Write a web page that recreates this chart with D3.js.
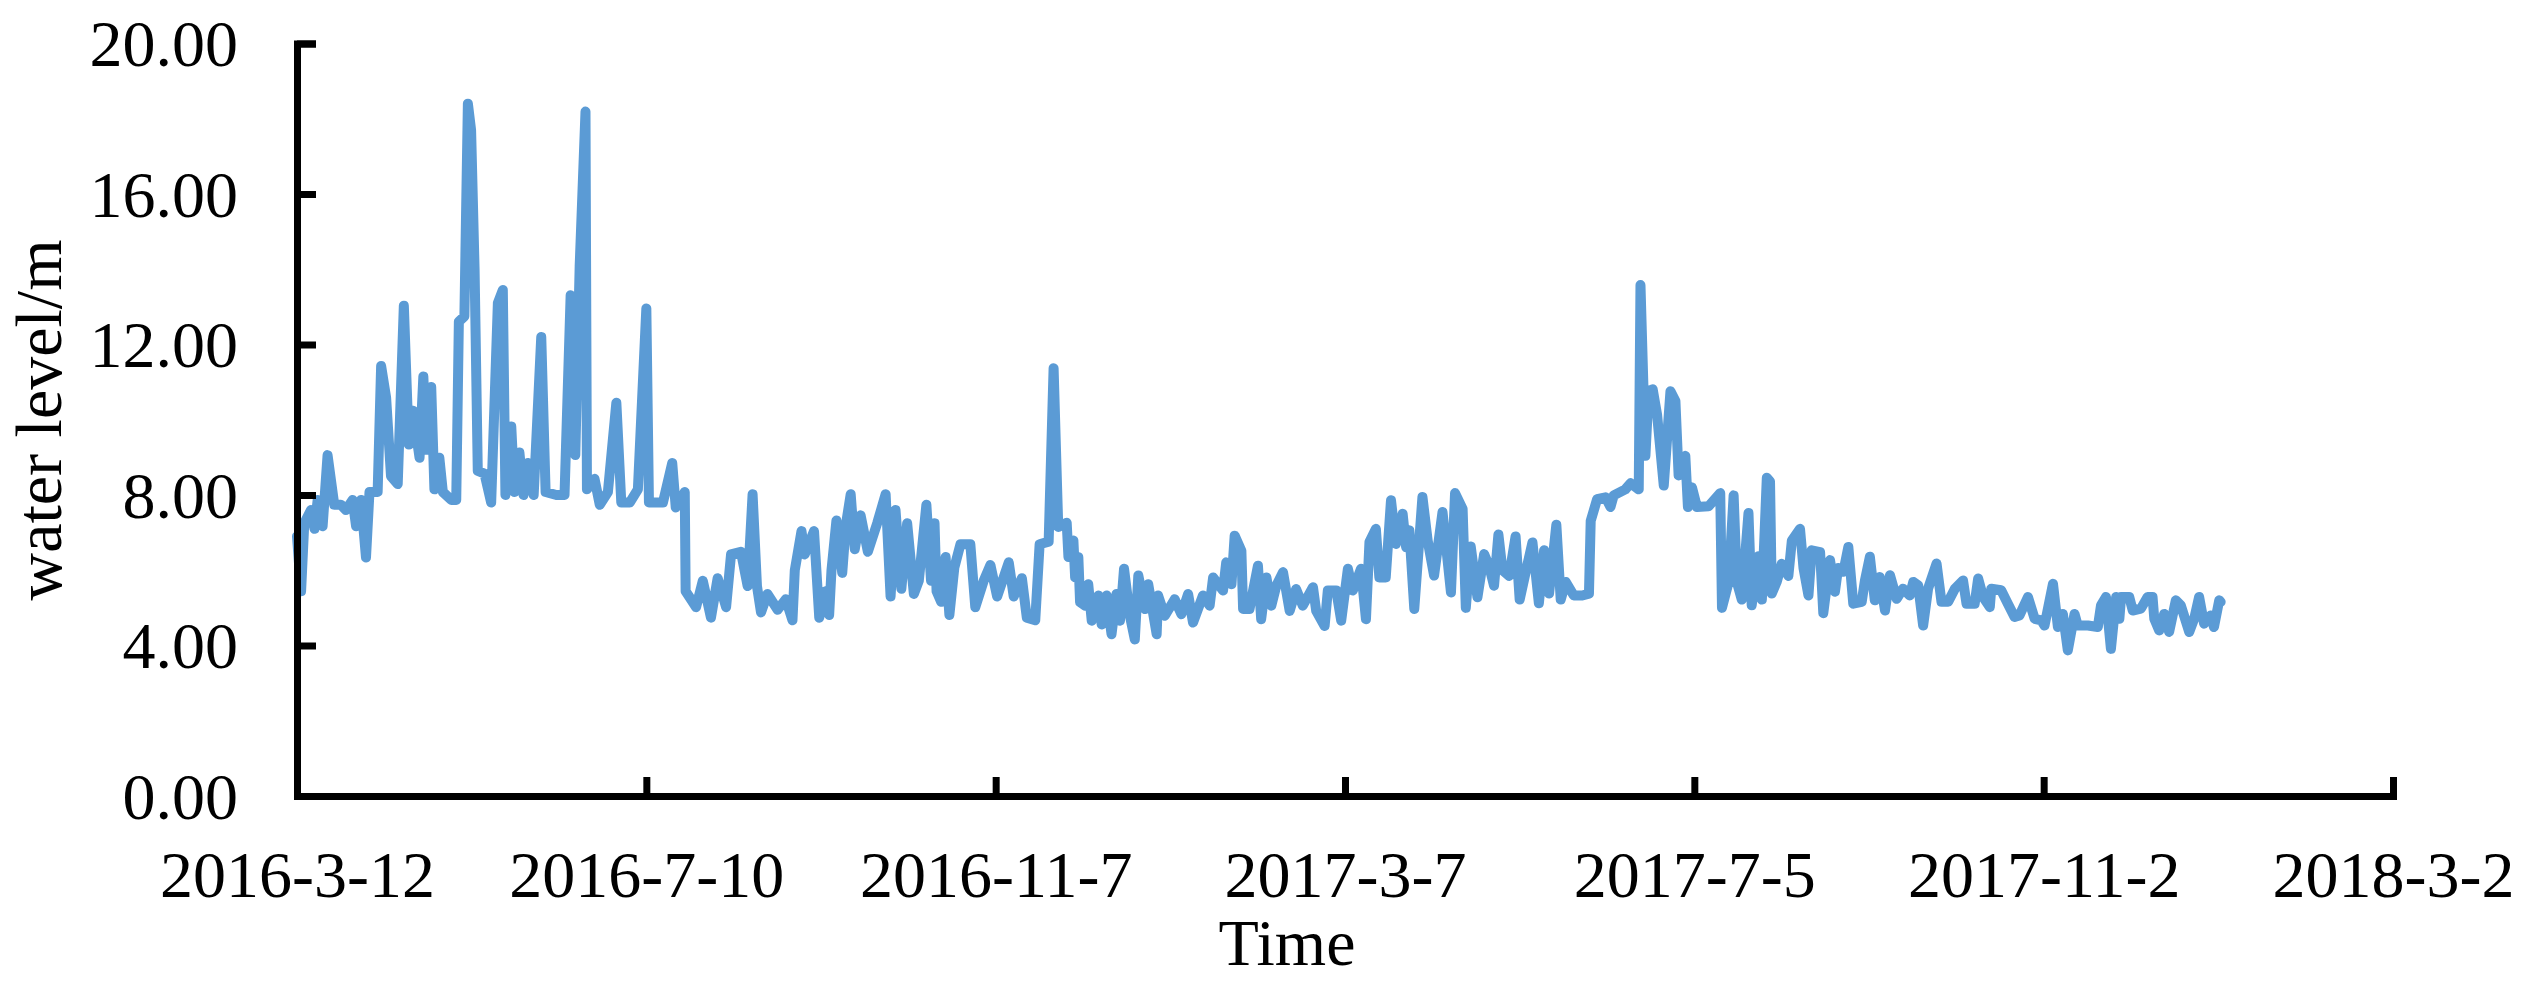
<!DOCTYPE html>
<html>
<head>
<meta charset="utf-8">
<script src="https://cdn.jsdelivr.net/npm/d3@7"></script>
<style>
  body { margin: 0; background: #fff; }
  text { font-family: "Liberation Serif", "Times New Roman", serif; }
</style>
</head>
<body>
<svg id="chart" width="2525" height="981"></svg>
<script>
// series start date, the x values below are days counted from it
const startDate = '2016-3-12';
const tickLabels = ['2016-3-12', '2016-7-10', '2016-11-7', '2017-3-7', '2017-7-5', '2017-11-2', '2018-3-2'];
const yTicks = [0, 4, 8, 12, 16, 20];

// (days after start, water level in m)
const dayOffsets = [
  0, 1.4, 2.5, 4.8, 6.0, 7.1, 8.8, 10.5, 12.8, 15.1, 16.8, 19.1, 20.3, 22, 23.7, 24.9, 27.7, 28.9, 30.6, 32.3,
  34.6, 36.7, 38.4, 39.8, 42.1, 43.4, 44.4, 46.1, 47.2, 48.9, 50.1, 53, 54.7, 55.6, 57.5, 58.7, 59.8, 61, 62.1, 64.4,
  66.7, 69, 70.7, 71.6, 73.6, 74.7, 76.4, 77.8, 79.3, 81.3, 83.9, 85.4, 89.1, 91.9, 94, 95.6, 97.1, 99.1, 99.6, 102.2,
  104, 106.8, 109.7, 111.4, 114.3, 117.1, 120, 120.9, 125.7, 128.9, 130.1, 133.2,
  133.5, 137.1, 139.4, 142.2, 144.5, 147.4, 149.1, 152.5, 154.8, 156.5, 158, 159.4, 161.6, 165.1, 167.9, 170.2, 171, 173.3, 174.4, 177.6,
  179.4, 181.6, 182.8, 183.6, 185.3, 187.3, 188.5, 190.2, 191.6, 193.6, 196.1, 199.3, 202.2, 203.9, 205.6, 207.6, 209.6, 211.9, 213.6, 216.2,
  217.8, 219, 219.7, 221.3, 222.8, 224.1, 225.8, 227.9, 231.3, 233, 235.9, 238.2, 240.5, 244.5, 246.2, 249, 250.7, 253.6, 255.1, 258.2, 259.9,
  261.5, 264.4, 265, 266.7, 267.3, 268.4, 269, 270.7, 271.8, 273, 275.3, 276.4, 278.1, 279.8, 281.5, 282.7, 284.1, 286.1, 287.8, 289,
  291.3, 292.4, 295.3, 295.8, 298.1, 301.5, 303.8, 306.1, 307.8, 311.2, 313.5, 314.7, 318.1, 319.2, 321, 322.1, 324.4, 325, 327.2, 330.1,
  331.2, 333, 334.7, 336.4, 338.7, 341, 343.2, 345.5, 349, 350.1, 353, 354.1, 357, 358.7, 361, 362.7, 365.5, 367.2, 368.4, 370.6,
  371.8, 374, 375.8, 377.5, 379.8, 381, 382.1, 383.8, 386.6, 388.4, 390.6, 393.5, 396.4, 397.8,
  400.4, 401.5, 403.2, 405.5, 407.8, 409.5, 411.2, 412.7, 414.1, 416.4, 418.6, 420, 422.1, 424.4, 426.6, 428.4, 430.1, 432.6, 434.1, 435.8,
  438.6, 441.5, 443.8, 444.4, 446.6, 449.5, 451.2, 452.3, 456.3, 458.1, 460.9, 461.5, 463.2, 464.3, 465.7, 467.2, 469.5, 471.8, 473.5, 474.6,
  476.9, 477.8, 479.2, 480.9, 484.9, 488.9, 489.5, 491.8, 493.5, 494.6, 496.3, 498.6, 499.7, 502, 503.2, 504.9, 506, 506.6, 508.3, 510,
  512.3, 513.5, 516.3, 517.5, 519.2, 520.3, 523.2, 524.3, 526.6, 528.3, 529.4, 531.2,
  532.9, 534.6, 537.5, 538.6, 540.3, 542, 543.7, 545.5, 547.2, 549.5, 551.7, 554, 555.2, 556.9, 558.6, 560.3, 563.2, 564.9, 567.2, 569.5,
  572.3, 573.5, 576.3, 577.5, 579.2, 581.5, 582, 585.4, 587.7, 590, 591.7, 594.6, 596.9, 599.2, 600.3, 603.2, 604.9, 606.6, 608.3, 610.6,
  611.7, 615.2, 618.6, 619.7, 621.4, 623.1, 624.9, 626, 626.6, 629.4, 630.6, 633.4, 635.7, 637.4, 638, 639.7, 641.4, 643.1, 645.4, 647.1,
  650, 651.7, 653.4, 655.1, 657.4, 658.5, 660.3, 660.8
];
const levels = [
  6.9, 5.44, 7.25, 7.6, 7.1, 7.87, 7.17, 9.06, 7.74, 7.74, 7.6, 7.87, 7.17, 7.87, 6.34, 8.08, 8.08, 11.43, 10.6, 8.5,
  8.29, 13.03, 9.34, 10.24, 8.99, 11.15, 9.2, 10.87, 8.15, 8.99, 8.08, 7.87, 7.87, 12.61, 12.75, 18.4, 17.7, 14.0, 8.64, 8.57,
  7.8, 13.1, 13.45, 8.0, 9.82, 8.08, 9.13, 8.0, 8.85, 8.0, 12.2, 8.08, 8.0, 8.0, 13.31, 9.06, 14.08, 18.19, 8.15, 8.43,
  7.74, 8.08, 10.45, 7.8, 7.8, 8.15, 12.96, 7.8, 7.8, 8.85, 7.67, 8.08,
  5.44, 5.02, 5.72, 4.74, 5.79, 5.02, 6.42, 6.49, 5.58, 8.02, 5.58, 4.88, 5.37, 4.95, 5.23, 4.67, 6.0, 7.04, 6.42, 7.04,
  4.74, 5.44, 4.81, 6.0, 7.32, 5.93, 7.18, 8.02, 6.56, 7.46, 6.49, 7.25, 8.02, 5.3, 7.6, 5.51, 7.25, 5.37, 5.72, 7.74,
  5.72, 7.25, 5.44, 5.16, 6.35, 4.81, 6.07, 6.69, 6.69, 5.02, 5.72, 6.14, 5.3, 6.21, 5.3, 5.79, 4.74, 4.67, 6.69, 6.76, 11.37,
  7.15, 7.26, 6.35, 6.79, 5.81, 6.35, 5.15, 5.06, 5.63, 4.66, 5.33, 4.56, 5.33, 4.3, 5.37, 4.66, 6.04, 4.79, 4.16, 5.86,
  4.97, 5.63, 4.3, 5.33, 4.79, 5.23, 4.83, 5.37, 4.61, 5.33, 5.06, 5.81, 5.46, 6.21, 5.63, 6.92, 6.52, 4.97, 4.97, 6.12,
  4.7, 5.81, 5.06, 5.59, 5.95, 4.92, 5.5, 5.06, 5.55, 4.92, 4.52, 5.46, 5.46, 4.66, 6.04, 5.46, 6.04, 4.7, 6.75, 7.1,
  5.81, 5.81, 7.86, 6.7, 7.5, 6.61, 7.06, 4.97, 7.95, 6.79, 5.86, 7.55, 5.41, 8.05,
  7.63, 5.0, 6.63, 5.28, 6.43, 6.11, 5.59, 6.95, 6.0, 5.85, 6.9, 5.22, 5.96, 6.74, 5.12, 6.53, 5.38, 7.21, 5.22, 5.69,
  5.33, 5.33, 5.38, 7.31, 7.89, 7.94, 7.68, 7.99, 8.15, 8.31, 8.15, 13.58, 9.04, 10.76, 10.81, 10.14, 8.25, 10.76, 10.5, 8.52,
  9.04, 7.68, 8.2, 7.68, 7.7, 8.05, 5.0, 5.69, 7.99, 5.69, 5.22, 7.52, 5.07, 6.37, 5.22, 8.46, 8.36, 5.38, 5.69, 6.17,
  5.85, 6.79, 7.1, 6.06, 5.33, 6.53, 6.48, 4.86, 6.27, 5.43, 6.06, 5.96,
  6.62, 5.11, 5.16, 5.73, 6.36, 5.2, 5.82, 4.93, 5.87, 5.24, 5.51, 5.33, 5.69, 5.6, 4.53, 5.51, 6.18, 5.16, 5.16, 5.51,
  5.73, 5.11, 5.11, 5.78, 5.29, 5.02, 5.51, 5.47, 5.11, 4.76, 4.8, 5.29, 4.71, 4.67, 4.53, 5.64, 4.49, 4.84, 3.87, 4.84,
  4.53, 4.53, 4.49, 5.07, 5.29, 3.91, 5.29, 4.71, 5.29, 5.29, 4.93, 4.98, 5.29, 5.29, 4.71, 4.4, 4.84, 4.36, 5.2, 5.07,
  4.36, 4.71, 5.29, 4.58, 4.8, 4.49, 5.2, 5.16
];

function parseDay(s) {
  const p = s.split('-').map(Number);
  return new Date(Date.UTC(p[0], p[1] - 1, p[2]));
}

const t0 = parseDay(startDate).getTime();
const data = dayOffsets.map((d, i) => ({ date: new Date(t0 + d * 864e5), level: levels[i] }));
const tickDates = tickLabels.map(parseDay);

const svg = d3.select('#chart');
svg.append('rect').attr('width', 2525).attr('height', 981).attr('fill', '#fff');

const fontSize = 66;

const x = d3.scaleUtc()
  .domain([tickDates[0], tickDates[tickDates.length - 1]])
  .range([297, 2393]);

const y = d3.scaleLinear()
  .domain([0, 20])
  .range([796, 43.5]);

// line first, axes drawn over it
const line = d3.line()
  .x(d => x(d.date))
  .y(d => y(d.level));

svg.append('path')
  .datum(data)
  .attr('d', line)
  .attr('fill', 'none')
  .attr('stroke', '#5B9BD5')
  .attr('stroke-width', 10)
  .attr('stroke-linejoin', 'round')
  .attr('stroke-linecap', 'round');

// x axis, ticks point up into the plot
const xAxis = svg.append('g')
  .attr('transform', `translate(0,${y(0)})`)
  .call(d3.axisBottom(x)
    .tickValues(tickDates)
    .tickFormat((d, i) => tickLabels[i])
    .tickSizeInner(-19)
    .tickSizeOuter(-19));

xAxis.select('.domain').attr('stroke', '#000').attr('stroke-width', 7).attr('stroke-linejoin', 'miter');
xAxis.selectAll('.tick line').attr('stroke', '#000').attr('stroke-width', 7);
xAxis.selectAll('.tick text')
  .attr('y', 101)
  .attr('dy', 0)
  .attr('fill', '#000')
  .style('font-size', fontSize + 'px')
  .style('font-family', '"Liberation Serif", "Times New Roman", serif');

// y axis, ticks point right into the plot
const yAxis = svg.append('g')
  .attr('transform', `translate(${x.range()[0]},0)`)
  .call(d3.axisLeft(y)
    .tickValues(yTicks)
    .tickFormat(d3.format('.2f'))
    .tickSizeInner(-19)
    .tickSizeOuter(-19)
    .tickPadding(59));

yAxis.select('.domain').attr('stroke', '#000').attr('stroke-width', 7).attr('stroke-linejoin', 'miter');
yAxis.selectAll('.tick line').attr('stroke', '#000').attr('stroke-width', 7);
yAxis.selectAll('.tick text')
  .attr('dy', '0.34em')
  .attr('fill', '#000')
  .style('font-size', fontSize + 'px')
  .style('font-family', '"Liberation Serif", "Times New Roman", serif');

// axis titles
svg.append('text')
  .attr('x', 1287)
  .attr('y', 965)
  .attr('text-anchor', 'middle')
  .style('font-size', fontSize + 'px')
  .text('Time');

svg.append('text')
  .attr('transform', 'translate(61,420) rotate(-90)')
  .attr('text-anchor', 'middle')
  .style('font-size', fontSize + 'px')
  .text('water level/m');
</script>
</body>
</html>
